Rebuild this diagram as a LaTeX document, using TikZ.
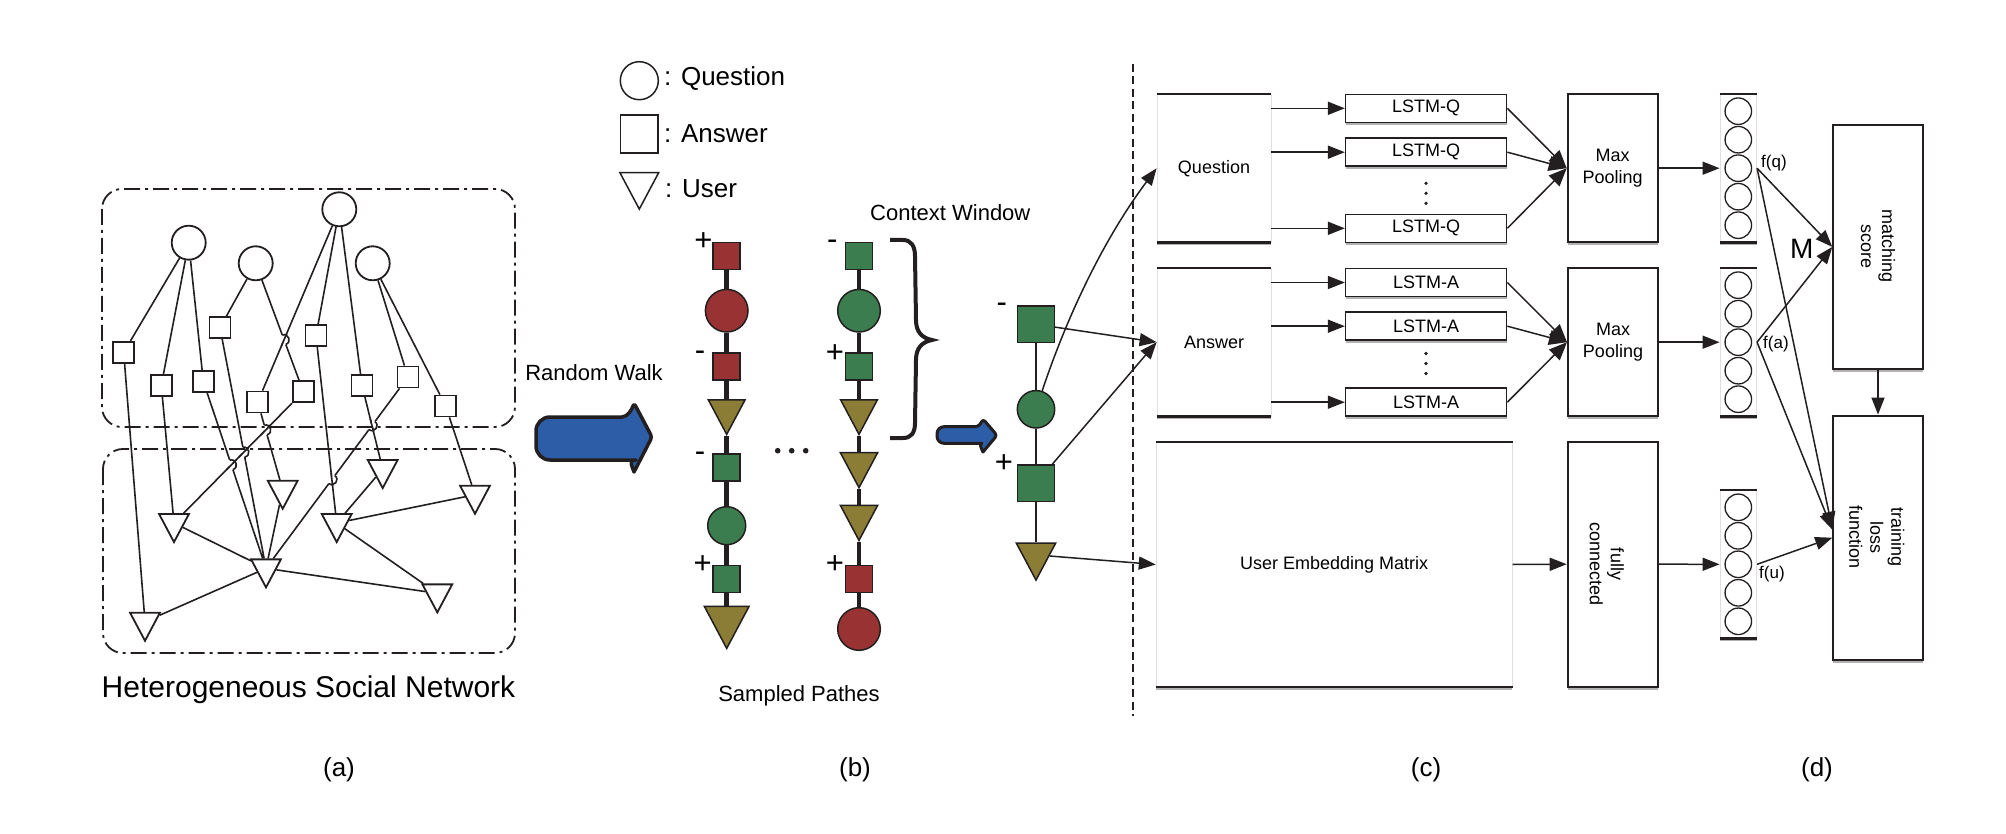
\documentclass[tikz,border=0pt]{standalone}
\usepackage{fontspec}
\setmainfont{Liberation Sans}
\usetikzlibrary{shapes.geometric,arrows.meta,shadows,calc,backgrounds}
\definecolor{qred}{RGB}{153,51,51}
\definecolor{qgreen}{RGB}{59,125,78}
\definecolor{qolive}{RGB}{139,125,53}
\definecolor{qblue}{RGB}{45,93,166}
\definecolor{ink}{RGB}{35,31,32}
\newcommand{\myfs}[1]{\fontsize{#1}{#1}\selectfont}
% line hop: #1--#2 hopping edge, #3--#4 crossed edge, #5/#6 side angles
\newcommand{\linehop}[6]{%
  \coordinate (hp) at (intersection of #1.center--#2.center and #3.center--#4.center);
  \coordinate (hpa) at ($(hp)!5pt!(#1.center)$);
  \coordinate (hpb) at ($(hp)!5pt!(#2.center)$);
  \draw[white, line width=3.6pt] (hpa) -- (hpb);
  \draw[aedge] ($(hp)!7pt!(#3.center)$) -- ($(hp)!7pt!(#4.center)$);
  \draw[aedge] (hpa) .. controls ($(hpa)!0.667!#5:(hpb)$) and ($(hpb)!0.667!#6:(hpa)$) .. (hpb);
}
\tikzset{
  qn/.style={circle, draw=ink, line width=1.8pt, minimum size=34pt, inner sep=0pt, fill=white},
  an/.style={rectangle, draw=ink, line width=1.8pt, minimum size=21pt, inner sep=0pt, fill=white},
  tri/.style={isosceles triangle, isosceles triangle apex angle=56, shape border rotate=270, inner sep=0pt, anchor=apex, minimum width=#1, minimum height=#1},
  un/.style={tri=28pt, draw=ink, line width=1.8pt, fill=white},
  aedge/.style={draw=ink, line width=1.6pt},
  grp/.style={draw=ink, line width=1.8pt, rounded corners=20pt, dash pattern=on 16pt off 5pt on 3pt off 5pt},
  bsq/.style={rectangle, draw=ink, line width=1.5pt, minimum size=#1, inner sep=0pt},
  bci/.style={circle, draw=ink, line width=1.5pt, minimum size=#1, inner sep=0pt},
  btr/.style={tri=#1, draw=ink, line width=1.5pt, fill=qolive},
  bpath/.style={draw=ink, line width=4.5pt},
  cthin/.style={draw=ink, line width=1.4pt},
  sign/.style={font=\myfs{31}, inner sep=0pt},
  lbl/.style={font=\myfs{#1}, inner sep=0pt},
  shd/.style={drop shadow={shadow xshift=0pt, shadow yshift=-3pt, opacity=0.3, fill=black}},
  panel/.style={rectangle, draw=gray!25, line width=0.8pt, fill=white, inner sep=0pt, shd},
  topl/.style={draw=ink, line width=1.5pt},
  botl/.style={draw=ink, line width=2.5pt},
  lstm/.style={rectangle, draw=ink, line width=1.5pt, fill=white, minimum width=161pt, minimum height=28pt, inner sep=0pt, font=\myfs{18}, shd},
  blk/.style={rectangle, draw=ink, line width=2pt, fill=white, inner sep=0pt, font=\fontsize{18}{22}\selectfont, align=center, shd},
  rtxt/.style={rotate=-90, align=center, inner sep=0pt, font=\fontsize{18}{21}\selectfont},
  vc/.style={circle, draw=ink, line width=1.3pt, minimum size=26.5pt, inner sep=0pt},
  arr/.style={draw=ink, line width=1.5pt, -{Triangle[length=17pt,width=13pt]}},
  barr/.style={draw=ink, line width=1.5pt, -{Triangle[length=18pt,width=15pt]}},
  bigarrow/.style={draw=ink, line width=3.5pt, fill=qblue, line join=round},
}
\begin{document}
\begin{tikzpicture}[x=1pt,y=-1pt]
\useasboundingbox (0,0) rectangle (2006,834);

% ---------------- (a) heterogeneous network ----------------
\draw[grp] (102,189) rectangle (515,427);
\draw[grp] (103,449) rectangle (515,653);

\node[qn] (C1) at (188.7,242.7) {};
\node[qn] (C2) at (255.7,263.3) {};
\node[qn] (C3) at (339.3,209.3) {};
\node[qn] (C4) at (372.7,263.3) {};

\node[an] (S1) at (123.7,352.3) {};
\node[an] (S2) at (161.3,385.3) {};
\node[an] (S3) at (203.3,381.3) {};
\node[an] (S4) at (220,327.7) {};
\node[an] (S5) at (257.7,402) {};
\node[an] (S6) at (303.3,391.7) {};
\node[an] (S7) at (316,335.7) {};
\node[an] (S8) at (362,385.3) {};
\node[an] (S9) at (408,377) {};
\node[an] (S10) at (445.7,406) {};

\node[un] (T1) at (145,642.7) {};
\node[un] (T2) at (174,544) {};
\node[un] (T3) at (266,589.3) {};
\node[un] (T4) at (282.7,510.7) {};
\node[un] (T5) at (336.7,544) {};
\node[un] (T6) at (382.7,490) {};
\node[un] (T7) at (475,515.7) {};
\node[un] (T8) at (437.3,614.3) {};

\begin{scope}[on background layer]
\draw[aedge] (C1)--(S1) (C1)--(S2) (C1)--(S3) (C2)--(S4) (C2)--(S6)
  (C3)--(S5) (C3)--(S7) (C3)--(S8) (C4)--(S9) (C4)--(S10)
  (S1)--(T1) (S2)--(T2) (S3)--(T3) (S4)--(T3) (S5)--(T4) (S6)--(T2)
  (S7)--(T5) (S8)--(T6) (S9)--(T3) (S10)--(T7)
  (T2)--(T3) (T1)--(T3) (T3)--(T8) (T5)--(T8) (T5)--(T7) (T6)--(T5) (T4)--(T3);
\linehop{C2}{S6}{C3}{S5}{90}{-90}
\linehop{S5}{T4}{S6}{T2}{90}{-90}
\linehop{S4}{T3}{S6}{T2}{90}{-90}
\linehop{S3}{T3}{S6}{T2}{90}{-90}
\linehop{S9}{T3}{S8}{T6}{90}{-90}
\linehop{S9}{T3}{S7}{T5}{90}{-90}
\end{scope}

\node[lbl=30] (hsn) at (308.5,690) {Heterogeneous Social Network};
\node[lbl=26] (la) at (339,770) {(a)};
\node[lbl=26] (lb) at (855,770) {(b)};
\node[lbl=26] (lc) at (1426,770) {(c)};
\node[lbl=26] (ld) at (1817,770) {(d)};

% ---------------- legend ----------------
\node[bci=38pt, fill=white] (lgq) at (639.3,80.7) {};
\node[bsq=37.7pt, fill=white] (lga) at (639.3,134) {};
\node[tri=36.5pt, draw=ink, line width=1.5pt, fill=white] (lgu) at (639.3,210.7) {};
\node[lbl=26, anchor=west] (lgqt) at (664,78.3) {: Question};
\node[lbl=26, anchor=west] (lgat) at (664,134) {: Answer};
\node[lbl=26, anchor=west] (lgut) at (665,189) {: User};

% ---------------- random walk arrow ----------------
\node[lbl=22] (rw) at (594,372.3) {Random Walk};
\draw[bigarrow] (622,417) [rounded corners=14pt] -- (536,417) -- (536,460) -- (622,460)
  [sharp corners] .. controls (628,460) and (632,466) .. (634,472)
  [rounded corners=3pt] -- (652,437) -- (634,403)
  [sharp corners] .. controls (632,409) and (628,417) .. (622,417) -- cycle;

% ---------------- (b) sampled paths ----------------
\node[bsq=27pt, fill=qred] (L1) at (726.7,255.8) {};
\node[bci=42.6pt, fill=qred] (L2) at (726.7,310.7) {};
\node[bsq=27pt, fill=qred] (L3) at (726.7,366.7) {};
\node[btr=34.5pt] (L4) at (726.7,436) {};
\node[bsq=27pt, fill=qgreen] (L5) at (726.7,467.7) {};
\node[bci=38pt, fill=qgreen] (L6) at (726.7,525.7) {};
\node[bsq=27pt, fill=qgreen] (L7) at (726.7,579) {};
\node[btr=42pt] (L8) at (726.7,650) {};

\node[bsq=27pt, fill=qgreen] (R1) at (859,255.8) {};
\node[bci=42.6pt, fill=qgreen] (R2) at (859,310.7) {};
\node[bsq=27pt, fill=qgreen] (R3) at (859,366.7) {};
\node[btr=34.5pt] (R4) at (859,436) {};
\node[btr=35pt] (R5) at (859,489.3) {};
\node[btr=35pt] (R6) at (859,542) {};
\node[bsq=27pt, fill=qred] (R7) at (859,579) {};
\node[bci=42.6pt, fill=qred] (R8) at (859,629) {};

\begin{scope}[on background layer]
\draw[bpath] (L1)--(L2) (L2)--(L3) (L3)--(L4) (L4)--(L5) (L5)--(L6) (L6)--(L7) (L7)--(L8);
\draw[bpath] (R1)--(R2) (R2)--(R3) (R3)--(R4) (R4)--(R5) (R5)--(R6) (R6)--(R7) (R7)--(R8);
\end{scope}

\node[sign] (sL1) at (703.3,241.7) {+};
\node[sign] (sL3) at (700,355.5) {-};
\node[sign] (sL5) at (700,456.5) {-};
\node[sign] (sL7) at (702.7,565) {+};
\node[sign] (sR1) at (832.3,244.5) {-};
\node[sign] (sR3) at (835,353.3) {+};
\node[sign] (sR7) at (835,565) {+};

\fill[ink] (777.7,450.7) circle[radius=2.8pt] (791.7,450.7) circle[radius=2.8pt] (805.7,450.7) circle[radius=2.8pt];

\node[lbl=22] (cw) at (950.3,213) {Context Window};
\draw[ink, line width=4pt] (890,240) -- (903,240) .. controls (911,240) and (915,246) .. (915,256)
  -- (916,320) .. controls (916,332) and (922,338) .. (932,340)
  .. controls (922,342) and (916,348) .. (916,360) -- (915,423)
  .. controls (915,433) and (911,438) .. (903,438) -- (890,438);

\node[lbl=22] (sp) at (799,696) {Sampled Pathes};

\draw[bigarrow, line width=3pt] (975,426.7) [rounded corners=7pt] -- (937,426.7) -- (937,443.3) -- (975,443.3)
  [sharp corners] .. controls (979,443.3) and (981,448) .. (983,452)
  [rounded corners=3pt] -- (997,435.3) -- (983,419)
  [sharp corners] .. controls (981,423) and (979,426.7) .. (975,426.7) -- cycle;

% ---------------- (c) ----------------
\draw[ink, line width=1.8pt, dash pattern=on 8pt off 4.5pt] (1133,64) -- (1133,716);

\node[sign] (sc1) at (1001.7,308) {-};
\node[bsq=36.7pt, fill=qgreen] (cq1) at (1036,324.3) {};
\node[bci=37.4pt, fill=qgreen] (cq2) at (1036,409.3) {};
\node[sign] (sc2) at (1004,463.3) {+};
\node[bsq=36.7pt, fill=qgreen] (cq3) at (1036,483.3) {};
\node[btr=37pt] (cq4) at (1036,581.7) {};
\begin{scope}[on background layer]
\draw[cthin] (cq1)--(cq2) (cq2)--(cq3) (cq3)--(cq4);
\end{scope}

\node[panel, minimum width=114pt, minimum height=148pt, font=\myfs{18}] (qb) at (1214,168.3) {Question};
\node[panel, minimum width=114pt, minimum height=148pt, font=\myfs{18}] (ab) at (1214,342.2) {Answer};
\node[panel, minimum width=356pt, minimum height=244pt, font=\myfs{18}] (ub) at (1334.2,564.5) {User Embedding Matrix};

\node[lstm] (lq1) at (1426.1,108.3) {LSTM-Q};
\node[lstm] (lq2) at (1426.1,152.2) {LSTM-Q};
\node[lstm] (lq3) at (1426.1,228.3) {LSTM-Q};
\node[lstm] (la1) at (1426.1,282.5) {LSTM-A};
\node[lstm] (la2) at (1426.1,326.2) {LSTM-A};
\node[lstm] (la3) at (1426.1,402.2) {LSTM-A};
\foreach \y in {183.3,193.3,203.3,353.5,363.5,373.5} \fill[ink] (1426,\y) circle[radius=1.8pt];

\node[blk, minimum width=90pt, minimum height=147.4pt] (mp1) at (1612.7,168.2) {Max\\Pooling};
\node[blk, minimum width=90pt, minimum height=147.7pt] (mp2) at (1613,342.2) {Max\\Pooling};
\node[blk, minimum width=90pt, minimum height=245pt] (fc) at (1612.7,564.2) {};
\node[rtxt] (fct) at (1606.7,564) {fully\\connected};

\node[panel, minimum width=36.7pt, minimum height=147.4pt] (v1) at (1738.3,168.2) {};
\node[panel, minimum width=36.7pt, minimum height=147.7pt] (v2) at (1738.3,342.2) {};
\node[panel, minimum width=36.7pt, minimum height=147.4pt] (v3) at (1738.3,564.3) {};
\foreach \n in {qb,ab,ub,v1,v2,v3} {
  \draw[topl] (\n.north west) -- (\n.north east);
  \draw[botl] (\n.south west) -- (\n.south east);
}
\foreach \i in {1,...,5} {
  \node[vc] (v1c\i) at (1738.3,82.7+28.5*\i) {};
  \node[vc] (v2c\i) at (1738.3,256.7+28.5*\i) {};
  \node[vc] (v3c\i) at (1738.3,478.8+28.5*\i) {};
}

\node[blk, minimum width=89.4pt, minimum height=244.2pt] (ms) at (1878,246.9) {};
\node[rtxt] (mst) at (1878,246.5) {matching\\score};
\node[blk, minimum width=89.4pt, minimum height=244.2pt] (tl) at (1878,537.7) {};
\node[rtxt] (tlt) at (1876.7,537.3) {training\\loss\\function};

\node[lbl=17, anchor=west] (fq) at (1761,163.4) {f(q)};
\node[lbl=17, anchor=west] (fa) at (1763,344) {f(a)};
\node[lbl=17, anchor=west] (fu) at (1759,573.7) {f(u)};
\node[lbl=28] (mm) at (1801.7,248.4) {M};

% arrows
\draw[arr] (cq2) .. controls (1069,310.6) and (1106,236) .. (qb.west);
\draw[arr] (cq1) -- (ab.west);
\draw[arr] (cq3) -- (ab.west);
\draw[arr] (cq4) -- (ub.west);

\foreach \n in {lq1,lq2,lq3} \draw[arr] (qb.east |- \n.west) -- (\n.west);
\foreach \n in {la1,la2,la3} \draw[arr] (ab.east |- \n.west) -- (\n.west);
\foreach \n in {lq1,lq2,lq3} \draw[barr] (\n.east) -- (mp1.west);
\foreach \n in {la1,la2,la3} \draw[barr] (\n.east) -- (mp2.west);

\draw[arr] (mp1.east) -- (v1.west);
\draw[arr] (mp2.east) -- (v2.west);
\draw[arr] (ub.east) -- (fc.west);
\draw[arr] (fc.east) -- (v3.west);
\draw[arr] (v1.east) -- (ms.west);
\draw[arr] (v2.east) -- (ms.west);
\draw[arr] (v1.east) -- ($(tl.west)+(0,-9)$);
\draw[arr] (v2.east) -- ($(tl.west)+(0,-8)$);
\draw[arr] (v3.east) -- (tl.west);
\draw[arr] (ms.south) -- (tl.north);
\end{tikzpicture}
\end{document}
